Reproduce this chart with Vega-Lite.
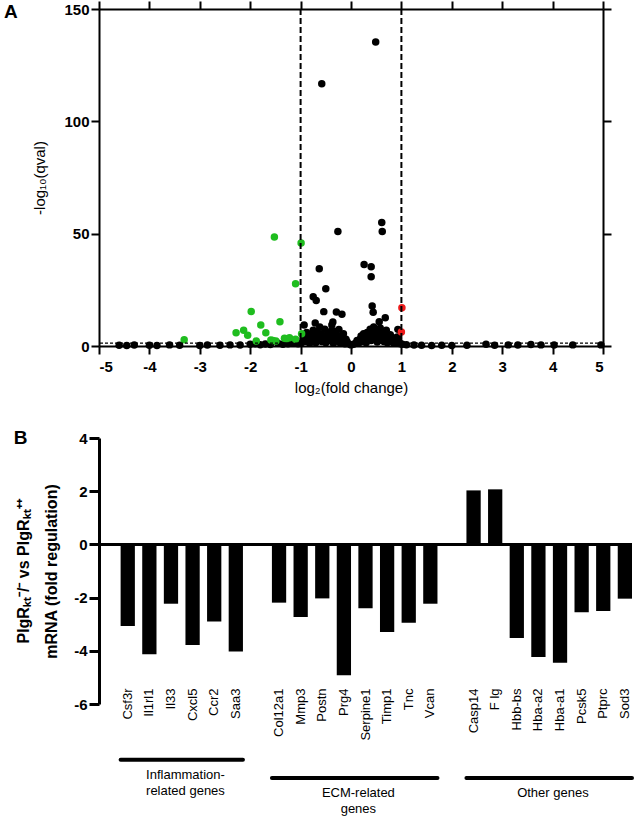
{
  "$schema": "https://vega.github.io/schema/vega-lite/v6.json",
  "padding": {"left": 3, "top": 0, "right": 2, "bottom": 3},
  "background": "white",
  "config": {
    "font": "Liberation Sans",
    "view": {"stroke": null},
    "axis": {"grid": false, "domainColor": "black", "tickColor": "black", "labelColor": "black", "titleColor": "black", "labelFont": "Liberation Sans", "titleFont": "Liberation Sans"},
    "title": {"color": "black", "font": "Liberation Sans"}
  },
  "datasets": {
    "volcano": [
      {"lfc": -4.6, "nlq": 0.3, "sig": "ns"}, {"lfc": -4.45, "nlq": 0.2, "sig": "ns"}, {"lfc": -4.3, "nlq": 0.4, "sig": "ns"},
      {"lfc": -4.0, "nlq": 0.3, "sig": "ns"}, {"lfc": -3.85, "nlq": 0.2, "sig": "ns"}, {"lfc": -3.6, "nlq": 0.5, "sig": "ns"},
      {"lfc": -3.4, "nlq": 0.3, "sig": "ns"}, {"lfc": -3.0, "nlq": 0.2, "sig": "ns"}, {"lfc": -2.85, "nlq": 0.4, "sig": "ns"},
      {"lfc": -2.6, "nlq": 0.3, "sig": "ns"}, {"lfc": -2.4, "nlq": 0.5, "sig": "ns"}, {"lfc": -2.2, "nlq": 0.4, "sig": "ns"},
      {"lfc": -2.0, "nlq": 0.8, "sig": "ns"}, {"lfc": -1.9, "nlq": 1.0, "sig": "ns"}, {"lfc": -1.8, "nlq": 0.6, "sig": "ns"},
      {"lfc": -1.7, "nlq": 0.9, "sig": "ns"}, {"lfc": -1.6, "nlq": 0.7, "sig": "ns"}, {"lfc": -1.45, "nlq": 1.2, "sig": "ns"},
      {"lfc": -1.35, "nlq": 0.8, "sig": "ns"}, {"lfc": -1.25, "nlq": 1.0, "sig": "ns"}, {"lfc": -1.15, "nlq": 1.3, "sig": "ns"},
      {"lfc": -1.05, "nlq": 1.0, "sig": "ns"},
      {"lfc": 1.1, "nlq": 0.6, "sig": "ns"}, {"lfc": 1.25, "nlq": 0.4, "sig": "ns"}, {"lfc": 1.4, "nlq": 0.3, "sig": "ns"},
      {"lfc": 1.6, "nlq": 0.2, "sig": "ns"}, {"lfc": 1.8, "nlq": 0.3, "sig": "ns"}, {"lfc": 2.0, "nlq": 0.2, "sig": "ns"},
      {"lfc": 2.3, "nlq": 0.3, "sig": "ns"}, {"lfc": 2.68, "nlq": 0.8, "sig": "ns"}, {"lfc": 2.85, "nlq": 0.3, "sig": "ns"},
      {"lfc": 3.12, "nlq": 0.5, "sig": "ns"}, {"lfc": 3.31, "nlq": 0.4, "sig": "ns"}, {"lfc": 3.57, "nlq": 0.7, "sig": "ns"},
      {"lfc": 3.77, "nlq": 0.5, "sig": "ns"}, {"lfc": 4.03, "nlq": 0.4, "sig": "ns"}, {"lfc": 4.4, "nlq": 0.5, "sig": "ns"},
      {"lfc": 4.96, "nlq": 0.5, "sig": "ns"},
      {"lfc": -0.98, "nlq": 1.5, "sig": "ns"}, {"lfc": -0.95, "nlq": 3.0, "sig": "ns"}, {"lfc": -0.92, "nlq": 4.5, "sig": "ns"},
      {"lfc": -0.9, "nlq": 2.0, "sig": "ns"}, {"lfc": -0.88, "nlq": 6.0, "sig": "ns"}, {"lfc": -0.85, "nlq": 3.5, "sig": "ns"},
      {"lfc": -0.82, "nlq": 1.2, "sig": "ns"}, {"lfc": -0.8, "nlq": 5.0, "sig": "ns"}, {"lfc": -0.78, "nlq": 2.5, "sig": "ns"},
      {"lfc": -0.75, "nlq": 7.0, "sig": "ns"}, {"lfc": -0.72, "nlq": 4.0, "sig": "ns"}, {"lfc": -0.7, "nlq": 1.5, "sig": "ns"},
      {"lfc": -0.68, "nlq": 6.5, "sig": "ns"}, {"lfc": -0.65, "nlq": 3.0, "sig": "ns"}, {"lfc": -0.62, "nlq": 8.5, "sig": "ns"},
      {"lfc": -0.6, "nlq": 5.5, "sig": "ns"}, {"lfc": -0.58, "nlq": 2.0, "sig": "ns"}, {"lfc": -0.55, "nlq": 4.5, "sig": "ns"},
      {"lfc": -0.52, "nlq": 7.5, "sig": "ns"}, {"lfc": -0.5, "nlq": 1.5, "sig": "ns"}, {"lfc": -0.48, "nlq": 3.5, "sig": "ns"},
      {"lfc": -0.45, "nlq": 6.0, "sig": "ns"}, {"lfc": -0.42, "nlq": 2.5, "sig": "ns"}, {"lfc": -0.4, "nlq": 5.0, "sig": "ns"},
      {"lfc": -0.38, "nlq": 7.0, "sig": "ns"}, {"lfc": -0.35, "nlq": 1.2, "sig": "ns"}, {"lfc": -0.32, "nlq": 4.0, "sig": "ns"},
      {"lfc": -0.3, "nlq": 6.5, "sig": "ns"}, {"lfc": -0.28, "nlq": 2.8, "sig": "ns"}, {"lfc": -0.25, "nlq": 4.5, "sig": "ns"},
      {"lfc": -0.22, "nlq": 1.5, "sig": "ns"}, {"lfc": -0.2, "nlq": 3.5, "sig": "ns"}, {"lfc": -0.18, "nlq": 2.2, "sig": "ns"},
      {"lfc": -0.15, "nlq": 5.5, "sig": "ns"}, {"lfc": -0.12, "nlq": 1.0, "sig": "ns"}, {"lfc": -0.1, "nlq": 3.0, "sig": "ns"},
      {"lfc": -0.08, "nlq": 2.0, "sig": "ns"}, {"lfc": -0.05, "nlq": 1.0, "sig": "ns"}, {"lfc": 0.0, "nlq": 0.5, "sig": "ns"},
      {"lfc": 0.05, "nlq": 0.8, "sig": "ns"}, {"lfc": 0.1, "nlq": 1.5, "sig": "ns"}, {"lfc": 0.12, "nlq": 2.5, "sig": "ns"},
      {"lfc": 0.15, "nlq": 1.2, "sig": "ns"}, {"lfc": 0.18, "nlq": 3.0, "sig": "ns"}, {"lfc": 0.2, "nlq": 4.5, "sig": "ns"},
      {"lfc": 0.22, "nlq": 2.0, "sig": "ns"}, {"lfc": 0.25, "nlq": 5.5, "sig": "ns"}, {"lfc": 0.28, "nlq": 3.5, "sig": "ns"},
      {"lfc": 0.3, "nlq": 1.5, "sig": "ns"}, {"lfc": 0.32, "nlq": 6.0, "sig": "ns"}, {"lfc": 0.35, "nlq": 4.0, "sig": "ns"},
      {"lfc": 0.38, "nlq": 7.5, "sig": "ns"}, {"lfc": 0.4, "nlq": 2.5, "sig": "ns"}, {"lfc": 0.42, "nlq": 5.5, "sig": "ns"},
      {"lfc": 0.45, "nlq": 8.5, "sig": "ns"}, {"lfc": 0.48, "nlq": 3.5, "sig": "ns"}, {"lfc": 0.5, "nlq": 6.5, "sig": "ns"},
      {"lfc": 0.52, "nlq": 1.8, "sig": "ns"}, {"lfc": 0.55, "nlq": 5.0, "sig": "ns"}, {"lfc": 0.58, "nlq": 8.0, "sig": "ns"},
      {"lfc": 0.6, "nlq": 3.0, "sig": "ns"}, {"lfc": 0.62, "nlq": 6.0, "sig": "ns"}, {"lfc": 0.65, "nlq": 2.0, "sig": "ns"},
      {"lfc": 0.68, "nlq": 4.5, "sig": "ns"}, {"lfc": 0.7, "nlq": 7.0, "sig": "ns"}, {"lfc": 0.72, "nlq": 1.5, "sig": "ns"},
      {"lfc": 0.75, "nlq": 3.5, "sig": "ns"}, {"lfc": 0.78, "nlq": 5.0, "sig": "ns"}, {"lfc": 0.8, "nlq": 2.0, "sig": "ns"},
      {"lfc": 0.82, "nlq": 3.8, "sig": "ns"}, {"lfc": 0.85, "nlq": 1.2, "sig": "ns"}, {"lfc": 0.88, "nlq": 2.8, "sig": "ns"},
      {"lfc": 0.9, "nlq": 1.5, "sig": "ns"}, {"lfc": 0.92, "nlq": 4.0, "sig": "ns"}, {"lfc": 0.95, "nlq": 2.2, "sig": "ns"},
      {"lfc": 0.98, "nlq": 1.0, "sig": "ns"}, {"lfc": 1.02, "nlq": 0.8, "sig": "ns"},
      {"lfc": 0.49, "nlq": 135.3, "sig": "ns"}, {"lfc": -0.58, "nlq": 116.7, "sig": "ns"}, {"lfc": -0.26, "nlq": 51.0, "sig": "ns"},
      {"lfc": 0.61, "nlq": 55.0, "sig": "ns"}, {"lfc": 0.62, "nlq": 51.0, "sig": "ns"}, {"lfc": -0.63, "nlq": 34.4, "sig": "ns"},
      {"lfc": 0.26, "nlq": 36.3, "sig": "ns"}, {"lfc": 0.4, "nlq": 35.3, "sig": "ns"}, {"lfc": 0.4, "nlq": 30.8, "sig": "ns"},
      {"lfc": -0.5, "nlq": 25.5, "sig": "ns"}, {"lfc": -0.75, "nlq": 21.9, "sig": "ns"}, {"lfc": -0.69, "nlq": 20.3, "sig": "ns"},
      {"lfc": 0.42, "nlq": 17.8, "sig": "ns"}, {"lfc": 0.44, "nlq": 15.0, "sig": "ns"}, {"lfc": -0.54, "nlq": 15.3, "sig": "ns"},
      {"lfc": -0.29, "nlq": 15.1, "sig": "ns"}, {"lfc": -0.18, "nlq": 14.1, "sig": "ns"}, {"lfc": 0.68, "nlq": 12.6, "sig": "ns"},
      {"lfc": 0.56, "nlq": 10.8, "sig": "ns"}, {"lfc": -0.71, "nlq": 10.2, "sig": "ns"}, {"lfc": -0.36, "nlq": 10.7, "sig": "ns"},
      {"lfc": -0.38, "nlq": 9.3, "sig": "ns"}, {"lfc": -0.24, "nlq": 7.4, "sig": "ns"}, {"lfc": -0.93, "nlq": 9.3, "sig": "ns"},
      {"lfc": 0.93, "nlq": 7.4, "sig": "ns"},
      {"lfc": -1.52, "nlq": 48.5, "sig": "down"}, {"lfc": -0.99, "nlq": 45.8, "sig": "down"}, {"lfc": -1.1, "nlq": 27.7, "sig": "down"},
      {"lfc": -1.98, "nlq": 15.4, "sig": "down"}, {"lfc": -1.41, "nlq": 10.8, "sig": "down"}, {"lfc": -1.79, "nlq": 9.3, "sig": "down"},
      {"lfc": -2.28, "nlq": 5.9, "sig": "down"}, {"lfc": -2.13, "nlq": 7.0, "sig": "down"}, {"lfc": -2.05, "nlq": 4.8, "sig": "down"},
      {"lfc": -1.69, "nlq": 5.9, "sig": "down"}, {"lfc": -3.31, "nlq": 2.8, "sig": "down"}, {"lfc": -1.88, "nlq": 2.2, "sig": "down"},
      {"lfc": -1.59, "nlq": 2.7, "sig": "down"}, {"lfc": -1.49, "nlq": 2.2, "sig": "down"}, {"lfc": -1.32, "nlq": 3.4, "sig": "down"},
      {"lfc": -1.22, "nlq": 3.7, "sig": "down"}, {"lfc": -1.1, "nlq": 3.0, "sig": "down"}, {"lfc": -0.98, "nlq": 5.5, "sig": "down"},
      {"lfc": -1.55, "nlq": 2.5, "sig": "down"}, {"lfc": -1.28, "nlq": 3.2, "sig": "down"},
      {"lfc": 1.01, "nlq": 17.0, "sig": "up"}, {"lfc": 1.0, "nlq": 6.2, "sig": "up"}
    ],
    "genes": [
      {"gene": "Csf3r", "group": "Inflammation", "fold": -3.07},
      {"gene": "Il1rl1", "group": "Inflammation", "fold": -4.13},
      {"gene": "Il33", "group": "Inflammation", "fold": -2.23},
      {"gene": "Cxcl5", "group": "Inflammation", "fold": -3.78},
      {"gene": "Ccr2", "group": "Inflammation", "fold": -2.9},
      {"gene": "Saa3", "group": "Inflammation", "fold": -4.03},
      {"gene": "Col12a1", "group": "ECM", "fold": -2.19},
      {"gene": "Mmp3", "group": "ECM", "fold": -2.73},
      {"gene": "Postn", "group": "ECM", "fold": -2.03},
      {"gene": "Prg4", "group": "ECM", "fold": -4.92},
      {"gene": "Serpine1", "group": "ECM", "fold": -2.4},
      {"gene": "Timp1", "group": "ECM", "fold": -3.29},
      {"gene": "Tnc", "group": "ECM", "fold": -2.95},
      {"gene": "Vcan", "group": "ECM", "fold": -2.23},
      {"gene": "Casp14", "group": "Other", "fold": 2.03},
      {"gene": "F lg", "group": "Other", "fold": 2.07},
      {"gene": "Hbb-bs", "group": "Other", "fold": -3.52},
      {"gene": "Hba-a2", "group": "Other", "fold": -4.23},
      {"gene": "Hba-a1", "group": "Other", "fold": -4.45},
      {"gene": "Pcsk5", "group": "Other", "fold": -2.55},
      {"gene": "Ptprc", "group": "Other", "fold": -2.5},
      {"gene": "Sod3", "group": "Other", "fold": -2.04}
    ],
    "groups": [
      {"group": "Inflammation", "first": "Csf3r", "last": "Saa3", "mid": "Cxcl5", "label": "Inflammation-\nrelated genes"},
      {"group": "ECM", "first": "Col12a1", "last": "Vcan", "mid": "Serpine1", "label": "ECM-related\ngenes"},
      {"group": "Other", "first": "Casp14", "last": "Sod3", "mid": "Hba-a1", "label": "Other genes"}
    ]
  },
  "bounds": "flush",
  "spacing": 92,
  "vconcat": [
    {
      "width": 504,
      "height": 337,
      "title": {"text": "A", "anchor": "start", "frame": "bounds", "fontSize": 19, "fontWeight": "bold", "dx": -29, "dy": 26},
      "resolve": {"axis": {"x": "independent", "y": "independent"}},
      "layer": [
        {
          "data": {"name": "volcano"},
          "mark": {"type": "circle", "size": 56, "opacity": 1},
          "encoding": {
            "x": {"field": "lfc", "type": "quantitative", "scale": {"domain": [-5, 5], "nice": false},
              "axis": {"orient": "bottom", "values": [-5, -4, -3, -2, -1, 0, 1, 2, 3, 4, 5], "labelExpr": "replace(datum.label, '−', '-')", "title": "log₂(fold change)", "titleFontSize": 15, "titleFontWeight": "normal", "titlePadding": 6, "labelFontSize": 15, "labelFontWeight": "bold", "labelPadding": 5, "tickSize": 8, "tickWidth": 2, "domainWidth": 2}},
            "y": {"field": "nlq", "type": "quantitative", "scale": {"domain": [0, 150], "nice": false},
              "axis": {"orient": "left", "values": [0, 50, 100, 150], "title": "-log₁₀(qval)", "titleFontSize": 15, "titleFontWeight": "normal", "titlePadding": 16, "labelFontSize": 15, "labelFontWeight": "bold", "labelPadding": 2, "tickSize": 8, "tickWidth": 2, "domainWidth": 2}},
            "color": {"field": "sig", "type": "nominal", "scale": {"domain": ["ns", "down", "up"], "range": ["#000000", "#1fbd1f", "#ee1c1c"]}, "legend": null}
          }
        },
        {
          "data": {"values": [{"v": -1}, {"v": 1}]},
          "mark": {"type": "rule", "strokeDash": [6, 3], "strokeWidth": 2, "color": "black"},
          "encoding": {
            "x": {"field": "v", "type": "quantitative", "scale": {"domain": [-5, 5], "nice": false},
              "axis": {"orient": "top", "values": [-5, -4, -3, -2, -1, 0, 1, 2, 3, 4, 5], "labels": false, "title": null, "tickSize": 8, "tickWidth": 2, "domainWidth": 2}}
          }
        },
        {
          "data": {"values": [{"h": 1.3}]},
          "mark": {"type": "rule", "strokeDash": [3, 2], "strokeWidth": 1.3, "color": "black"},
          "encoding": {
            "y": {"field": "h", "type": "quantitative", "scale": {"domain": [0, 150], "nice": false},
              "axis": {"orient": "right", "values": [0, 50, 100, 150], "labels": false, "title": null, "tickSize": 8, "tickWidth": 2, "domainWidth": 2}}
          }
        }
      ]
    },
    {
      "width": 533,
      "height": 266,
      "title": {"text": "B", "anchor": "start", "frame": "bounds", "fontSize": 19, "fontWeight": "bold", "dx": -2, "dy": 21},
      "layer": [
        {
          "data": {"name": "genes"},
          "mark": {"type": "bar", "color": "black"},
          "encoding": {
            "x": {"field": "gene", "type": "nominal",
              "scale": {"domain": ["Csf3r", "Il1rl1", "Il33", "Cxcl5", "Ccr2", "Saa3", " ", "Col12a1", "Mmp3", "Postn", "Prg4", "Serpine1", "Timp1", "Tnc", "Vcan", "  ", "Casp14", "F lg", "Hbb-bs", "Hba-a2", "Hba-a1", "Pcsk5", "Ptprc", "Sod3"], "paddingInner": 0.34, "paddingOuter": 0.5, "align": 1},
              "axis": {"title": null, "labelAngle": -90, "labelAlign": "right", "labelBaseline": "middle", "ticks": false, "domain": false, "labelPadding": -16, "labelFontSize": 13, "labelFontWeight": "normal"}},
            "y": {"field": "fold", "type": "quantitative", "scale": {"domain": [-6, 4], "nice": false},
              "axis": {"values": [-6, -4, -2, 0, 2, 4], "labelExpr": "replace(datum.label, '−', '-')", "title": ["PIgRₖₜ⁻/⁻ vs PIgRₖₜ⁺⁺", "mRNA (fold regulation)"], "titleFontSize": 16, "titleFontWeight": "bold", "titleLineHeight": 28, "titlePadding": 14, "labelFontSize": 15, "labelFontWeight": "bold", "labelPadding": 2, "tickSize": 10, "tickWidth": 3, "domainWidth": 3}}
          }
        },
        {
          "data": {"name": "genes"},
          "mark": {"type": "rule", "color": "black", "strokeWidth": 2.5},
          "encoding": {"y": {"datum": 0, "type": "quantitative", "scale": {"domain": [-6, 4], "nice": false}}}
        },
        {
          "data": {"name": "groups"},
          "transform": [{"filter": "datum.group === 'Inflammation'"}],
          "layer": [
            {
              "mark": {"type": "rule", "color": "black", "strokeWidth": 4, "strokeCap": "round"},
              "encoding": {
                "x": {"field": "first", "type": "nominal", "bandPosition": 0},
                "x2": {"field": "last", "bandPosition": 1},
                "y": {"datum": -8.1, "type": "quantitative", "scale": {"domain": [-6, 4], "nice": false}}
              }
            },
            {
              "mark": {"type": "text", "baseline": "top", "align": "center", "dy": 9, "fontSize": 13, "lineHeight": 16, "lineBreak": "\n", "color": "black"},
              "encoding": {
                "x": {"field": "mid", "type": "nominal", "bandPosition": 0},
                "y": {"datum": -8.1, "type": "quantitative", "scale": {"domain": [-6, 4], "nice": false}},
                "text": {"field": "label"}
              }
            }
          ]
        },
        {
          "data": {"name": "groups"},
          "transform": [{"filter": "datum.group !== 'Inflammation'"}],
          "layer": [
            {
              "mark": {"type": "rule", "color": "black", "strokeWidth": 4, "strokeCap": "round"},
              "encoding": {
                "x": {"field": "first", "type": "nominal", "bandPosition": 0},
                "x2": {"field": "last", "bandPosition": 1},
                "y": {"datum": -8.78, "type": "quantitative", "scale": {"domain": [-6, 4], "nice": false}}
              }
            },
            {
              "mark": {"type": "text", "baseline": "top", "align": "center", "dy": 9, "fontSize": 13, "lineHeight": 16, "lineBreak": "\n", "color": "black"},
              "encoding": {
                "x": {"field": "mid", "type": "nominal", "bandPosition": 0},
                "y": {"datum": -8.78, "type": "quantitative", "scale": {"domain": [-6, 4], "nice": false}},
                "text": {"field": "label"}
              }
            }
          ]
        }
      ]
    }
  ]
}
